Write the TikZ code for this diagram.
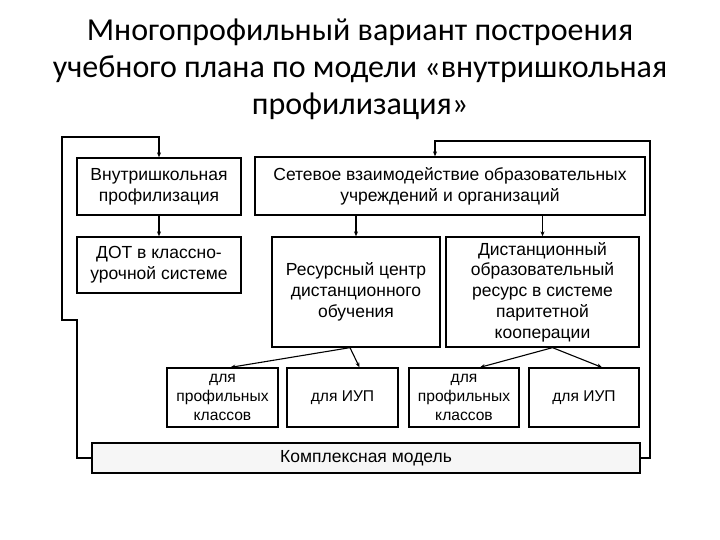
\documentclass[tikz,border=0pt]{standalone}
\usepackage{fontspec}
\setmainfont{Liberation Sans}
\newfontfamily\titlefont{Carlito}
\usetikzlibrary{arrows.meta}
\tikzset{
  block/.style={draw, line width=1.3pt, fill=white, align=center, inner sep=0pt,
    font=\fontsize{17.5}{20.8}\selectfont},
  small/.style={font=\fontsize{15.6}{19}\selectfont},
  link/.style={line width=1.1pt, -{Stealth[length=5pt,width=4pt]}},
}
\begin{document}
\begin{tikzpicture}[x=1pt,y=-1pt]
\useasboundingbox (0,0) rectangle (720,540);

% title
\node[align=center, font=\titlefont\fontsize{32}{37}\selectfont] (title) at (360,69)
  {Многопрофильный вариант построения\\учебного плана по модели «внутришкольная\\профилизация»};

% upper row
\node[block, minimum width=164pt, minimum height=57pt] (vnutr) at (159,186.5) {Внутришкольная\\профилизация};
\node[block, minimum width=164pt, minimum height=56pt] (dot) at (159,265) {ДОТ в классно-\\урочной системе};
\node[block, minimum width=390pt, minimum height=58pt] (set) at (450,186) {Сетевое взаимодействие образовательных\\учреждений и организаций};

% middle row
\node[block, minimum width=168pt, minimum height=110pt] (resurs) at (356,292) {Ресурсный центр\\дистанционного\\обучения};
\node[block, minimum width=193pt, minimum height=110pt] (dist) at (542.5,292) {Дистанционный\\образовательный\\ресурс в системе\\паритетной\\кооперации};

% lower row
\node[block, small, minimum width=111pt, minimum height=59pt] (p1) at (222.5,397.5) {для\\профильных\\классов};
\node[block, small, minimum width=111pt, minimum height=59pt] (p2) at (342.5,397.5) {для ИУП};
\node[block, small, minimum width=110pt, minimum height=59pt] (p3) at (464,397.5) {для\\профильных\\классов};
\node[block, small, minimum width=110pt, minimum height=59pt] (p4) at (584,397.5) {для ИУП};

\node[block, fill=gray!7, minimum width=548pt, minimum height=30pt] (kompl) at (366,458) {Комплексная модель};

% bends of the outer lines
\coordinate (lb1) at (77,320);
\coordinate (lb2) at (62,137);
\coordinate (rb1) at (650,141);

\draw[link] (vnutr) -- (dot);
\draw[link] (set.south -| resurs.north) -- (resurs);
\draw[link] (set.south -| dist.north) -- (dist);

\draw[link] ([xshift=-6pt]resurs.south) -- ([xshift=8pt]p1.north);
\draw[link] ([xshift=-6pt]resurs.south) -- ([xshift=17pt]p2.north);
\draw[link] ([xshift=10pt]dist.south) -- ([xshift=16pt]p3.north);
\draw[link] ([xshift=10pt]dist.south) -- ([xshift=18pt]p4.north);

\draw[link] (kompl.west) -| (lb1) -| (lb2) -| (vnutr.north);
\draw[link] (kompl.east) -| (rb1) -| ([xshift=-15pt]set.north);
\end{tikzpicture}
\end{document}
